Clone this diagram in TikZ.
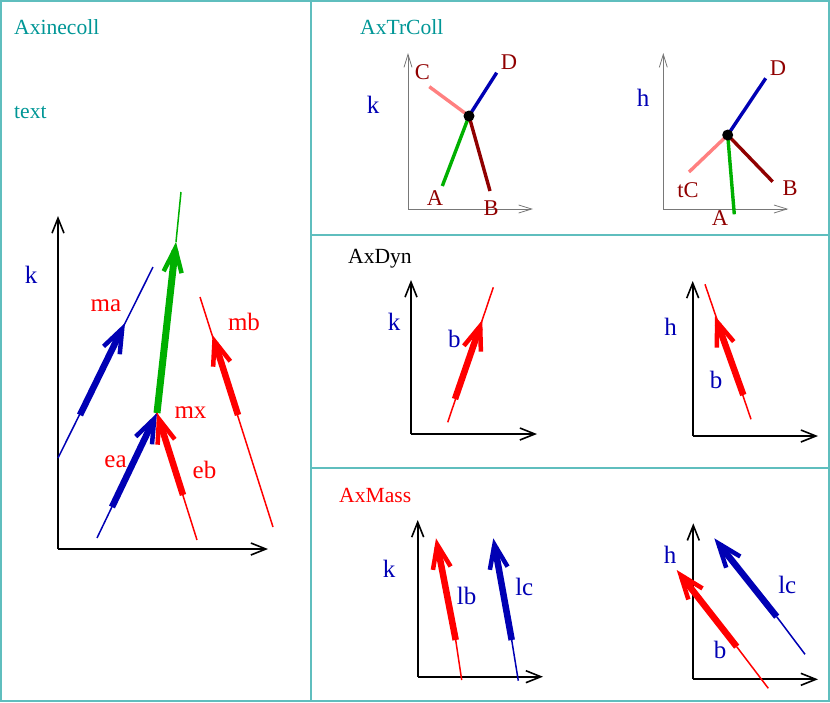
\documentclass[tikz,border=0pt]{standalone}
\usepackage{fontspec}
\setmainfont{Liberation Serif}
\usetikzlibrary{arrows.meta}
\definecolor{frameteal}{RGB}{95,190,190}
\definecolor{titleteal}{RGB}{0,150,150}
\definecolor{dblue}{RGB}{0,0,180}
\definecolor{dgreen}{RGB}{0,176,0}
\definecolor{dred}{RGB}{144,0,0}
\definecolor{pink}{RGB}{255,128,128}
\definecolor{ggray}{RGB}{120,120,120}
\tikzset{
  frame/.style={draw=frameteal,line width=1.5pt},
  title/.style={font=\fontsize{21.6}{22}\selectfont,inner sep=0pt,anchor=west},
  lab/.style={font=\fontsize{25}{25}\selectfont,inner sep=0pt},
  slab/.style={font=\fontsize{22.5}{23}\selectfont,inner sep=0pt,text=dred},
  axis/.style={line width=1.8pt,-{Straight Barb[length=15pt,width=12pt,line width=1.6pt]}},
  gaxis/.style={draw=ggray,line width=1pt,-{Straight Barb[length=13pt,width=8pt,line width=0.8pt]}},
  thin/.style={line width=1.5pt},
  thick/.style={line width=6.5pt,-{Straight Barb[length=24pt,width=18pt,line width=4.5pt]}},
  seg/.style={line width=3.4pt},
}
\begin{document}
\begin{tikzpicture}[x=1pt,y=-1pt]
\useasboundingbox (0,0) rectangle (830,702);
% frames
\draw[frame] (1,1) rectangle (311,701);
\draw[frame] (311,1) rectangle (829,235);
\draw[frame] (311,235) rectangle (829,468);
\draw[frame] (311,468) rectangle (829,701);

% ---------------- left panel
\node[title,text=titleteal] (t1) at (14,27.5) {Axinecoll};
\node[title,text=titleteal] (t2) at (14,112.5) {text};
\coordinate (o1) at (58,549);
\coordinate (y1) at (58,216);
\coordinate (x1) at (268,549);
\draw[axis] (o1) -- (y1);
\draw[axis] (o1) -- (x1);
% ma
\coordinate (ma0) at (58,458);
\coordinate (ma1) at (153,267);
\coordinate (mas) at (80,415);
\coordinate (mat) at (125,323);
\draw[thin,dblue] (ma0) -- (ma1);
\draw[thick,dblue] (mas) -- (mat);
% mx green
\coordinate (mx) at (157,413);
\coordinate (g1) at (176,242);
\coordinate (g2) at (181,192);
\draw[thin,dgreen] (g1) -- (g2);
\draw[thick,dgreen,line width=7pt] (mx) -- (g1);
% ea
\coordinate (ea0) at (97,538);
\coordinate (eas) at (112,507);
\draw[thin,dblue] (ea0) -- (mx);
\draw[thick,dblue] (eas) -- (mx);
% eb
\coordinate (eb0) at (197,540);
\coordinate (ebs) at (183,495);
\draw[thin,red] (eb0) -- (mx);
\draw[thick,red] (ebs) -- (mx);
% mb
\coordinate (mb0) at (273,527);
\coordinate (mb1) at (200,297);
\coordinate (mbs) at (238,415);
\coordinate (mbt) at (212.5,335);
\draw[thin,red] (mb0) -- (mb1);
\draw[thick,red] (mbs) -- (mbt);
\node[lab,text=dblue] (lk1) at (31,275) {k};
\node[lab,text=red] (lma) at (106,306) {ma};
\node[lab,text=red] (lmb) at (244,322) {mb};
\node[lab,text=red] (lmx) at (190.5,413) {mx};
\node[lab,text=red] (lea) at (115.5,461.5) {ea};
\node[lab,text=red] (leb) at (204.5,469.5) {eb};

% ---------------- AxTrColl
\node[title,text=titleteal] (t3) at (360,27.5) {AxTrColl};
\coordinate (o2) at (408,209);
\draw[gaxis] (o2) -- (408,53) coordinate (y2);
\draw[gaxis] (o2) -- (533,209) coordinate (x2);
\coordinate (c2) at (469,116);
\draw[seg,pink] (429.3,86.7) coordinate (cC) -- (c2);
\draw[seg,dblue] (c2) -- (496.7,72.7) coordinate (cD);
\draw[seg,dgreen] (442.3,186) coordinate (cA) -- (c2);
\draw[seg,dred] (c2) -- (490,191) coordinate (cB);
\fill (c2) circle (5.5);
\node[slab] (lC) at (422.3,71.7) {C};
\node[slab] (lD) at (509,61.7) {D};
\node[slab] (lA) at (435,198) {A};
\node[slab] (lB) at (491,208) {B};
\node[lab,text=dblue] (lk2) at (373,105) {k};

\coordinate (o3) at (663.3,209);
\draw[gaxis] (o3) -- (663.3,53) coordinate (y3);
\draw[gaxis] (o3) -- (788.3,209) coordinate (x3);
\coordinate (c3) at (727.7,135);
\draw[seg,pink] (689,172) coordinate (dC) -- (c3);
\draw[seg,dblue] (c3) -- (765.7,78.3) coordinate (dD);
\draw[seg,dgreen] (c3) -- (734.3,214.3) coordinate (dA);
\draw[seg,dred] (c3) -- (772.7,181.7) coordinate (dB);
\fill (c3) circle (5.5);
\node[slab] (mD) at (778,68) {D};
\node[slab] (mB) at (790,188) {B};
\node[slab] (mtC) at (688,190) {tC};
\node[slab] (mA) at (720,218) {A};
\node[lab,text=dblue] (lh3) at (643,98) {h};

% ---------------- AxDyn
\node[title,text=black] (t4) at (348,258.3) {AxDyn};
\coordinate (o4) at (411,434);
\draw[axis] (o4) -- (411,280) coordinate (y4);
\draw[axis] (o4) -- (537,434) coordinate (x4);
\draw[thin,red] (447.7,422.3) coordinate (b40) -- (493.3,287.3) coordinate (b41);
\draw[thick,red] (455,399) coordinate (b4s) -- (482.3,320) coordinate (b4t);
\node[lab,text=dblue] (lk4) at (394,321.7) {k};
\node[lab,text=dblue] (lb4) at (454.3,339) {b};

\coordinate (o5) at (692.7,436);
\draw[axis] (o5) -- (692.7,281) coordinate (y5);
\draw[axis] (o5) -- (818,436) coordinate (x5);
\draw[thin,red] (751,419.3) coordinate (b50) -- (705,284.3) coordinate (b51);
\draw[thick,red] (743.3,395) coordinate (b5s) -- (715,316) coordinate (b5t);
\node[lab,text=dblue] (lh5) at (670.7,326.7) {h};
\node[lab,text=dblue] (lb5) at (716,380) {b};

% ---------------- AxMass
\node[title,text=red] (t5) at (339,495) {AxMass};
\coordinate (o6) at (417.7,676.7);
\draw[axis] (o6) -- (417.7,520) coordinate (y6);
\draw[axis] (o6) -- (543,676.7) coordinate (x6);
\draw[thin,red] (461.7,680) coordinate (lb0) -- (455.7,640) coordinate (lbs);
\draw[thick,red] (lbs) -- (436,538.3) coordinate (lbt);
\draw[thin,dblue] (518.3,680.7) coordinate (lc0) -- (511.7,640) coordinate (lcs);
\draw[thick,dblue] (lcs) -- (493.3,538.3) coordinate (lct);
\node[lab,text=dblue] (lk6) at (389,569) {k};
\node[lab,text=dblue] (llb) at (466.7,595.7) {lb};
\node[lab,text=dblue] (llc) at (524.3,586.7) {lc};

\coordinate (o7) at (693.3,679.3);
\draw[axis] (o7) -- (693.3,523.3) coordinate (y7);
\draw[axis] (o7) -- (818,679.3) coordinate (x7);
\draw[thin,red] (768.3,688.3) coordinate (r70) -- (736.7,646.7) coordinate (r7s);
\draw[thick,red] (r7s) -- (676.7,570) coordinate (r7t);
\draw[thin,dblue] (805,654.3) coordinate (u70) -- (776.7,616.7) coordinate (u7s);
\draw[thick,dblue] (u7s) -- (714.3,538.3) coordinate (u7t);
\node[lab,text=dblue] (lh7) at (670,555) {h};
\node[lab,text=dblue] (lb7) at (720,650) {b};
\node[lab,text=dblue] (llc7) at (787.3,585) {lc};
\end{tikzpicture}
\end{document}
